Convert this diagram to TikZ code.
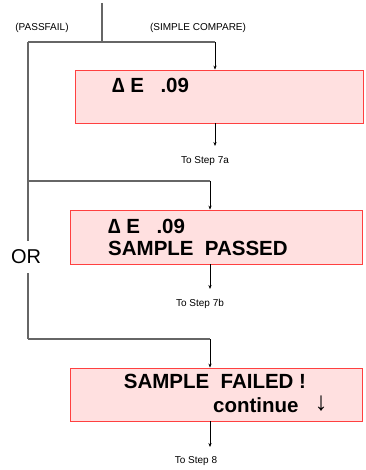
\documentclass[tikz,border=0pt]{standalone}
\usepackage{fontspec}
\setmainfont{Liberation Sans}
\usetikzlibrary{arrows.meta}
\begin{document}
\begin{tikzpicture}[x=1pt,y=-1pt,
  box/.style={draw=red!75, fill=red!12, line width=0.8pt, inner sep=0pt},
  trunk/.style={draw=black!60, line width=1.2pt},
  arr/.style={draw=black, line width=0.6pt, -{Stealth[length=4pt,width=3.2pt]}},
  small/.style={font=\fontsize{10}{12}\selectfont, inner sep=0pt},
  big/.style={font=\fontsize{20.5}{24}\selectfont\bfseries, inner sep=0pt, anchor=west}]
\useasboundingbox (0,0) rectangle (365,470);
% boxes
\node[box, minimum width=288pt, minimum height=53pt] (b1) at (219,96.5) {};
\node[box, minimum width=292pt, minimum height=54pt] (b2) at (216,237) {};
\node[box, minimum width=292pt, minimum height=53pt] (b3) at (216,394.5) {};
% box texts
\node[big] (t1) at (112,85) {∆ E\hspace{0.8em}.09};
\node[big] (t2a) at (108,226) {∆ E\hspace{0.8em}.09};
\node[big] (t2b) at (108,248) {SAMPLE\hspace{0.55em}PASSED};
\node[big, anchor=center] (t3a) at (215,381) {SAMPLE\hspace{0.55em}FAILED !};
\node[big] (t3b) at (213,405) {continue};
\node[font=\fontsize{26}{30}\selectfont, inner sep=0pt] (t3c) at (321,404) {↓};
% labels
\node[small] (lp) at (42,28) {(PASSFAIL)};
\node[small] (ls) at (198,28) {(SIMPLE COMPARE)};
\node[small] (s7a) at (205,161) {To Step 7a};
\node[small] (s7b) at (200,304) {To Step 7b};
\node[small] (s8) at (196,461) {To Step 8};
\node[font=\fontsize{20}{24}\selectfont, inner sep=0pt] (or) at (26,257) {OR};
% trunk coordinates
\coordinate (top) at (102,3);
\coordinate (j0) at (102,42);
\coordinate (l0) at (28,42);
\coordinate (a1) at (215,42);
\coordinate (l1) at (28,181);
\coordinate (a2) at (210,181);
\coordinate (orT) at (28,241);
\coordinate (orB) at (28,273);
\coordinate (l2) at (28,339);
\coordinate (a3) at (210,339);
\coordinate (e1) at (215,146);
\coordinate (e2) at (210,289);
\coordinate (e3) at (210,447);
% trunk lines
\draw[trunk] (top) -- (j0);
\draw[trunk] (l0) -- (a1);
\draw[trunk] (l0) -- (orT);
\draw[trunk] (orB) -- (l2);
\draw[trunk] (l1) -- (a2);
\draw[trunk] (l2) -- (a3);
% arrows into boxes
\draw[arr] (a1) -- (a1 |- b1.north);
\draw[arr] (a2) -- (a2 |- b2.north);
\draw[arr] (a3) -- (a3 |- b3.north);
% arrows out
\draw[arr] (a1 |- b1.south) -- (e1);
\draw[arr] (a2 |- b2.south) -- (e2);
\draw[arr] (a3 |- b3.south) -- (e3);
\end{tikzpicture}
\end{document}
